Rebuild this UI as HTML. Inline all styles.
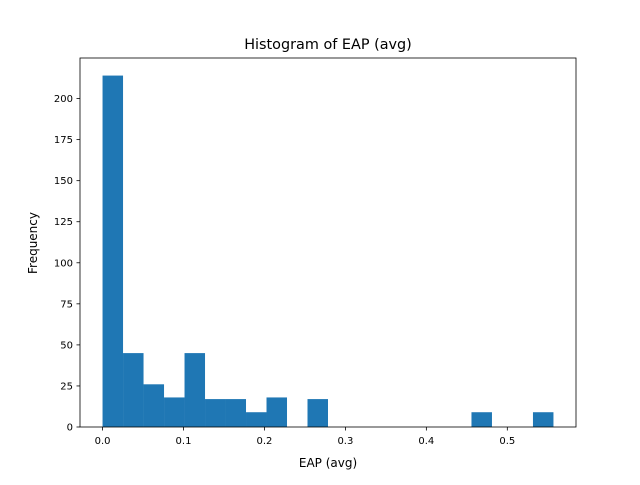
<!DOCTYPE html>
<html><head><meta charset="utf-8"><style>
body{margin:0;background:#fff;font-family:"Liberation Sans","DejaVu Sans",sans-serif}
svg text{font-family:"DejaVu Sans","Liberation Sans",sans-serif;fill:#000}
</style></head><body>
<svg id="chart" width="640" height="480">
<rect width="640" height="480" fill="#fff"/>
<text x="328" y="49" font-size="14.4" text-anchor="middle">Histogram of EAP (avg)</text>
<g id="bars"></g>
<g id="axes"></g>
<text x="328" y="467" font-size="12" text-anchor="middle">EAP (avg)</text>
<text transform="translate(37,243) rotate(-90)" font-size="12" text-anchor="middle">Frequency</text>
</svg>
<script>
const counts=[214,45,26,18,45,17,17,9,18,0,17,0,0,0,0,0,0,0,9,0,0,9];
const binMin=[0.0];
const binMax=[0.557];
const xTicks=[0.0,0.1,0.2,0.3,0.4,0.5];
const xTickLabels=["0.0","0.1","0.2","0.3","0.4","0.5"];
const yTicks=[0,25,50,75,100,125,150,175,200];

const L=80,R=576,T=58,B=427;
const lo=binMin[0],hi=binMax[0],span=hi-lo;
const xmin=lo-span*0.05,xmax=hi+span*0.05;
const ymax=Math.max(...counts)*1.05;
const sx=v=>L+(v-xmin)/(xmax-xmin)*(R-L);
const sy=v=>B-v/ymax*(B-T);
const ns="http://www.w3.org/2000/svg";
const bars=document.getElementById('bars'),axes=document.getElementById('axes');
const w=span/counts.length;
counts.forEach((c,i)=>{
  if(c<=0)return;
  const r=document.createElementNS(ns,'rect');
  const x0=sx(lo+i*w),x1=sx(lo+(i+1)*w);
  r.setAttribute('x',x0);r.setAttribute('width',x1-x0);
  r.setAttribute('y',sy(c));r.setAttribute('height',sy(0)-sy(c));
  r.setAttribute('fill','#1f77b4');
  
  
  bars.appendChild(r);
});
const frame=document.createElementNS(ns,'rect');
frame.setAttribute('x',L);frame.setAttribute('y',T);frame.setAttribute('width',R-L);frame.setAttribute('height',B-T);
frame.setAttribute('fill','none');frame.setAttribute('stroke','#000');frame.setAttribute('stroke-width','0.8');


axes.appendChild(frame);
xTicks.forEach((v,i)=>{
  const x=sx(v);
  const l=document.createElementNS(ns,'line');
  l.setAttribute('x1',x);l.setAttribute('x2',x);l.setAttribute('y1',B);l.setAttribute('y2',B+3.5);
  l.setAttribute('stroke','#000');l.setAttribute('stroke-width','0.8');
  
  
  axes.appendChild(l);
  const t=document.createElementNS(ns,'text');
  t.setAttribute('x',x);t.setAttribute('y',B+17);t.setAttribute('font-size','10');t.setAttribute('text-anchor','middle');
  t.textContent=xTickLabels[i];
  
  
  axes.appendChild(t);
});
yTicks.forEach(v=>{
  const y=sy(v);
  const l=document.createElementNS(ns,'line');
  l.setAttribute('x1',L-3.5);l.setAttribute('x2',L);l.setAttribute('y1',y);l.setAttribute('y2',y);
  l.setAttribute('stroke','#000');l.setAttribute('stroke-width','0.8');
  
  
  axes.appendChild(l);
  const t=document.createElementNS(ns,'text');
  t.setAttribute('x',L-7);t.setAttribute('y',y+3.5);t.setAttribute('font-size','10');t.setAttribute('text-anchor','end');
  t.textContent=v;
  
  
  axes.appendChild(t);
});
</script>
</body></html>
